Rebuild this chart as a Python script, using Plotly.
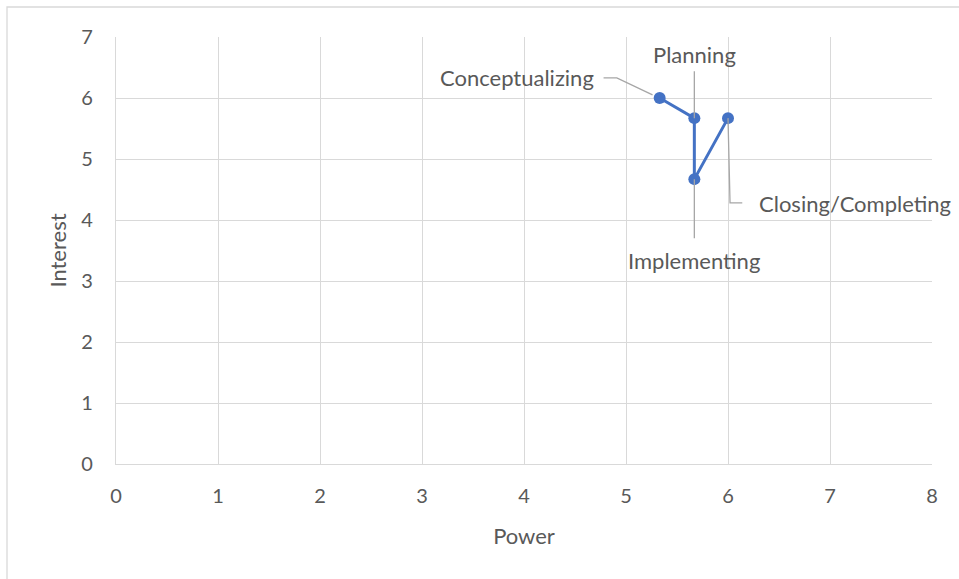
import plotly.graph_objects as go

# Project phases plotted on the power / interest grid
phases = ["Conceptualizing", "Planning", "Implementing", "Closing/Completing"]
power = [5.33, 5.67, 5.67, 6.0]
interest = [6.0, 5.67, 4.67, 5.67]

x_ticks = [0, 1, 2, 3, 4, 5, 6, 7, 8]
y_ticks = [0, 1, 2, 3, 4, 5, 6, 7]

FONT = "Lato"
TEXT = "#595959"
GRID = "#d9d9d9"
BLUE = "#4472C4"
LEADER = "#a6a6a6"

fig = go.Figure()
fig.add_trace(go.Scatter(
    x=power, y=interest, mode="lines+markers",
    line=dict(color=BLUE, width=3),
    marker=dict(color=BLUE, size=12),
    showlegend=False, hoverinfo="skip",
))

# label placement: (text anchor dx, dy) in data units relative to the point,
# plus leader-line path offsets
label_layout = {
    "Conceptualizing": dict(ax=-0.62, ay=0.33, xanchor="right",
                            path=[(-0.07, 0.05), (-0.42, 0.33), (-0.55, 0.33)]),
    "Planning": dict(ax=0.0, ay=1.05, xanchor="center",
                     path=[(0.0, 0.0), (0.0, 0.77)]),
    "Implementing": dict(ax=0.0, ay=-1.33, xanchor="center",
                         path=[(0.0, 0.0), (0.0, -0.97)]),
    "Closing/Completing": dict(ax=0.28, ay=-1.4, xanchor="left",
                               path=[(0.0, 0.0), (0.02, -1.39), (0.14, -1.39)]),
}

for name, px, py in zip(phases, power, interest):
    spec = label_layout[name]
    pts = [(px + dx, py + dy) for dx, dy in spec["path"]]
    fig.add_trace(go.Scatter(
        x=[p[0] for p in pts], y=[p[1] for p in pts], mode="lines",
        line=dict(color=LEADER, width=1.3),
        showlegend=False, hoverinfo="skip",
    ))
    fig.add_annotation(
        x=px + spec["ax"], y=py + spec["ay"], text=name, showarrow=False,
        xanchor=spec["xanchor"], yanchor="middle",
        font=dict(family=FONT, size=22, color=TEXT),
    )

fig.update_xaxes(
    range=[0, 8], tickvals=x_ticks, ticktext=[str(v) for v in x_ticks],
    showgrid=True, gridcolor=GRID, gridwidth=1.3,
    showline=True, linecolor=GRID, linewidth=1.3, zeroline=False,
    ticks="", ticklabelstandoff=14,
    tickfont=dict(family=FONT, size=20, color=TEXT),
    title=dict(text="Power", font=dict(family=FONT, size=22, color=TEXT), standoff=22),
)
fig.update_yaxes(
    range=[0, 7], tickvals=y_ticks, ticktext=[str(v) for v in y_ticks],
    showgrid=True, gridcolor=GRID, gridwidth=1.3,
    showline=True, linecolor=GRID, linewidth=1.3, zeroline=False,
    ticks="", ticklabelstandoff=18,
    tickfont=dict(family=FONT, size=20, color=TEXT),
    title=dict(text="Interest", font=dict(family=FONT, size=22, color=TEXT), standoff=8),
)

# outer chart frame (runs past the right and bottom edges of the page)
fig.add_shape(type="rect", xref="paper", yref="paper",
              x0=-109 / 816, x1=1 + 40 / 816, y0=-130 / 427, y1=1 + 30 / 427,
              line=dict(color=GRID, width=1.3), fillcolor="rgba(0,0,0,0)")

fig.update_layout(
    width=959, height=579,
    margin=dict(l=116, r=27, t=37, b=115),
    paper_bgcolor="white", plot_bgcolor="white",
)

fig.write_html("out.html")
